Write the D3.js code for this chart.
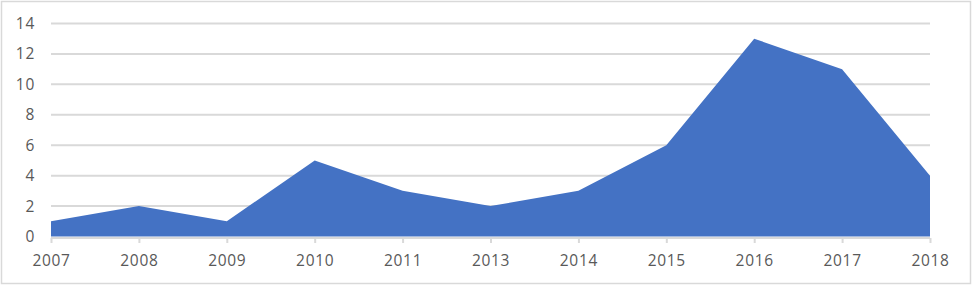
<!DOCTYPE html>
<html><head><meta charset="utf-8">
<script src="https://cdn.jsdelivr.net/npm/d3@7"></script>
<style>body{margin:0;background:#fff}svg{display:block}</style>
</head><body>
<svg id="c" width="972" height="286"></svg>
<script>
const categories = ["2007","2008","2009","2010","2011","2013","2014","2015","2016","2017","2018"];
const values = [1,2,1,5,3,2,3,6,13,11,4];
const yTicks = [0,2,4,6,8,10,12,14];

const svg = d3.select("#c");
const W = 972, H = 286;
const m = {left:51, right:42};
const x = d3.scalePoint().domain(categories).range([m.left, W - m.right]);
const y = d3.scaleLinear().domain([0,14]).range([236.5, 23.5]);

svg.append("rect").attr("x",1.5).attr("y",1.5).attr("width",969).attr("height",282)
  .attr("fill","#fff").attr("stroke","#d9d9d9").attr("stroke-width",1.5);

const font = "'Open Sans', 'Liberation Sans', sans-serif";
const fs = "15.5px";

// gridlines
svg.append("g").selectAll("line").data(yTicks.filter(d=>d>0)).join("line")
  .attr("x1", m.left).attr("x2", W - m.right)
  .attr("y1", d=>y(d)).attr("y2", d=>y(d))
  .attr("stroke","#d9d9d9").attr("stroke-width",2);

// area
const area = d3.area().x((d,i)=>x(categories[i])).y0(y(0)).y1(d=>y(d));
svg.append("path").datum(values).attr("d", area).attr("fill","#4472C4");

// x axis
const xAxis = svg.append("g").attr("transform",`translate(0,238)`)
  .call(d3.axisBottom(x).tickSize(5).tickPadding(8));
xAxis.select(".domain").attr("stroke","#d9d9d9").attr("stroke-width",2).attr("d",`M${m.left},0H${W-m.right}`);
xAxis.selectAll(".tick line").attr("stroke","#d9d9d9").attr("stroke-width",2);
xAxis.selectAll("text").attr("fill","#595959").attr("y",27.7).attr("dy",0)
  .style("font-family",font).style("font-size",fs).style("letter-spacing","0.7px");

// y axis labels
const yAxis = svg.append("g").attr("transform",`translate(${m.left},0)`)
  .call(d3.axisLeft(y).tickValues(yTicks).tickSize(0).tickPadding(16));
yAxis.select(".domain").remove();
yAxis.selectAll("text").attr("fill","#595959")
  .style("font-family",font).style("font-size",fs).style("letter-spacing","0.7px");
</script>
</body></html>
